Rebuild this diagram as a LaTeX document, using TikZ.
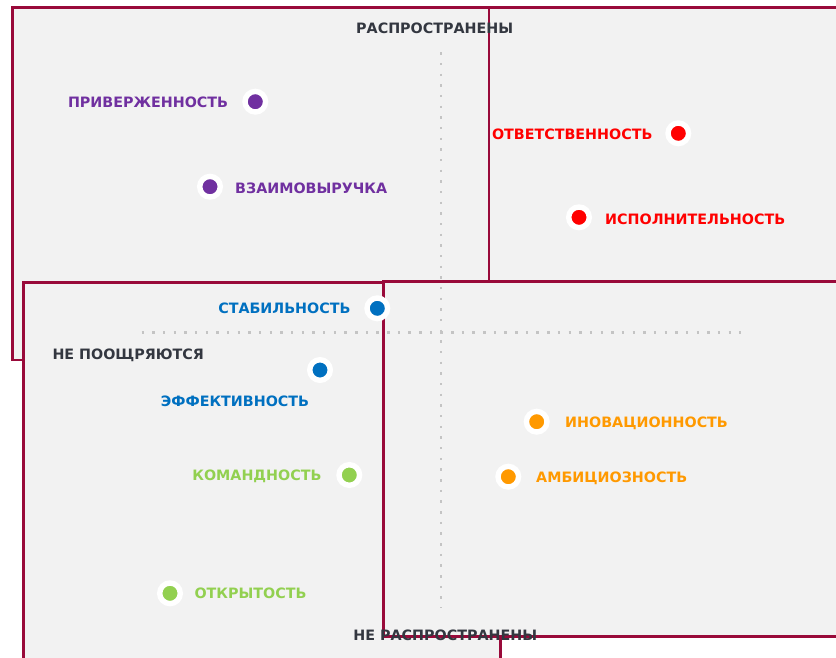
\documentclass[tikz,border=0pt]{standalone}
\usepackage{fontspec}
\setmainfont{DejaVu Sans}
\definecolor{frame}{RGB}{153,10,58}
\definecolor{panel}{RGB}{242,242,242}
\definecolor{axis}{RGB}{196,196,196}
\definecolor{dark}{RGB}{51,55,64}
\definecolor{cpurple}{RGB}{112,48,160}
\definecolor{cred}{RGB}{255,0,0}
\definecolor{cblue}{RGB}{0,112,192}
\definecolor{corange}{RGB}{255,153,0}
\definecolor{cgreen}{RGB}{146,208,80}
\begin{document}
\begin{tikzpicture}[x=1pt,y=-1pt,
  panelbox/.style={draw=frame,fill=panel,line width=2.6pt},
  axisline/.style={draw=axis,line width=2.4pt,dash pattern=on 2.4pt off 8.27pt},
  marker/.style={circle,draw=white,line width=5.4pt,minimum size=20.6pt,inner sep=0pt,outer sep=0pt},
  lbl/.style={font=\fontsize{14.3}{14.3}\selectfont\bfseries,inner sep=0pt,text height=10.6pt,text depth=0pt}
]
\useasboundingbox[fill=white] (0,0) rectangle (836,657);
% panels
\draw[panelbox] (12.5,7.3) rectangle (600,360);
\draw[panelbox] (489,7.3) rectangle (850,281.7);
\draw[panelbox] (23.3,282.3) rectangle (500.3,680);
\draw[panelbox] (383.3,281.7) rectangle (850,636.3);
% axes
\coordinate (vtop) at (440.7,52.3);
\coordinate (vbot) at (440.7,608);
\coordinate (hl) at (141.7,332.3);
\coordinate (hr) at (741,332.3);
\draw[axisline] (vtop) -- (vbot);
\draw[axisline] (hl) -- (hr);
% axis titles
\node[lbl,text=dark] (top) at (434.7,28.3) {РАСПРОСТРАНЕНЫ};
\node[lbl,text=dark] (bottom) at (445.3,635) {НЕ РАСПРОСТРАНЕНЫ};
\node[lbl,text=dark,anchor=west] (left) at (52.3,354.2) {НЕ ПООЩРЯЮТСЯ};
% markers
\node[marker,fill=cpurple] (m1) at (255.3,101.7) {};
\node[marker,fill=cpurple] (m2) at (210,186.7) {};
\node[marker,fill=cred] (m3) at (678.3,133.3) {};
\node[marker,fill=cred] (m4) at (579,217.3) {};
\node[marker,fill=cblue] (m5) at (377.3,308.3) {};
\node[marker,fill=cblue] (m6) at (320,370) {};
\node[marker,fill=corange] (m7) at (536.7,421.7) {};
\node[marker,fill=corange] (m8) at (508.3,476.7) {};
\node[marker,fill=cgreen] (m9) at (349.3,475) {};
\node[marker,fill=cgreen] (m10) at (170,593.3) {};
% labels
\node[lbl,text=cpurple,anchor=east] (t1) at (228.3,102.5) {ПРИВЕРЖЕННОСТЬ};
\node[lbl,text=cpurple,anchor=west] (t2) at (235,187.8) {ВЗАИМОВЫРУЧКА};
\node[lbl,text=cred,anchor=east] (t3) at (652.7,134.5) {ОТВЕТСТВЕННОСТЬ};
\node[lbl,text=cred,anchor=west] (t4) at (605,219) {ИСПОЛНИТЕЛЬНОСТЬ};
\node[lbl,text=cblue,anchor=east] (t5) at (350.7,308.3) {СТАБИЛЬНОСТЬ};
\node[lbl,text=cblue] (t6) at (235,401.2) {ЭФФЕКТИВНОСТЬ};
\node[lbl,text=corange,anchor=west] (t7) at (565,421.7) {ИНОВАЦИОННОСТЬ};
\node[lbl,text=corange,anchor=west] (t8) at (536,476.7) {АМБИЦИОЗНОСТЬ};
\node[lbl,text=cgreen,anchor=east] (t9) at (321.7,475) {КОМАНДНОСТЬ};
\node[lbl,text=cgreen,anchor=west] (t10) at (194.3,593.2) {ОТКРЫТОСТЬ};
\end{tikzpicture}
\end{document}
